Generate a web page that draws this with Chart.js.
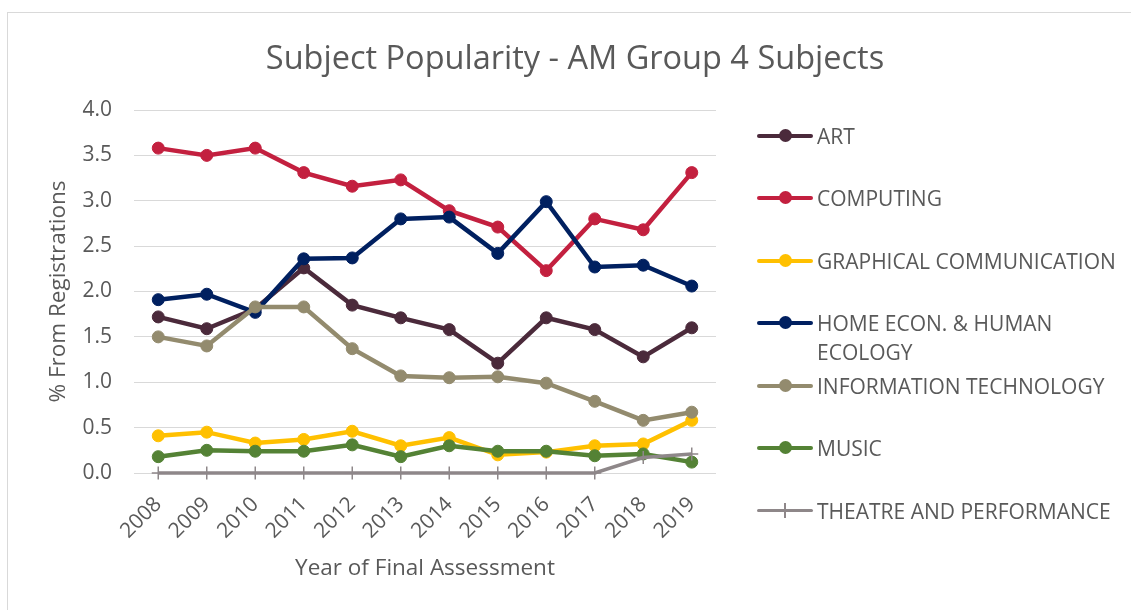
<!DOCTYPE html>
<html>
<head>
<meta charset="utf-8">
<script src="https://cdn.jsdelivr.net/npm/chart.js@4"></script>
<style>
  body { margin:0; background:#fff; font-family:"Open Sans", sans-serif; color:#595959; }
  #wrap { position:relative; width:1131px; height:610px; overflow:hidden; }
  #frame { position:absolute; left:7px; top:12px; width:1200px; height:700px; border:1px solid #d9d9d9; }
  #title { position:absolute; left:0; top:37px; width:1150px; text-align:center; font-size:32.5px; line-height:40px; }
  #chart { position:absolute; left:0; top:0; }
  .lg { position:absolute; left:757px; height:29px; }
  .lg .sym { position:absolute; left:0; top:12px; width:56px; height:4px; border-radius:2px; }
  .lg .dot { position:absolute; left:22px; top:-5px; width:13px; height:13px; border-radius:50%; }
  .lg .txt { position:absolute; left:60px; top:0; width:300px; font-size:21px; line-height:29px; white-space:normal; }
</style>
</head>
<body>
<div id="wrap">
  <div id="frame"></div>
  <canvas id="chart" width="1131" height="610"></canvas>
  <div id="title">Subject Popularity - AM Group 4 Subjects</div>
  <div id="legend"></div>
</div>
<script>
// Chart data
const years = ['2008', '2009', '2010', '2011', '2012', '2013', '2014', '2015', '2016', '2017', '2018', '2019'];

const art       = [1.72, 1.59, 1.81, 2.26, 1.85, 1.71, 1.58, 1.21, 1.71, 1.58, 1.28, 1.60];
const computing = [3.58, 3.50, 3.58, 3.31, 3.16, 3.23, 2.89, 2.71, 2.23, 2.80, 2.68, 3.31];
const graphical = [0.41, 0.45, 0.33, 0.37, 0.46, 0.30, 0.39, 0.20, 0.23, 0.30, 0.32, 0.58];
const homeEcon  = [1.91, 1.97, 1.77, 2.36, 2.37, 2.80, 2.82, 2.42, 2.99, 2.27, 2.29, 2.06];
const infoTech  = [1.50, 1.40, 1.83, 1.83, 1.37, 1.07, 1.05, 1.06, 0.99, 0.79, 0.58, 0.67];
const music     = [0.18, 0.25, 0.24, 0.24, 0.31, 0.18, 0.30, 0.24, 0.24, 0.19, 0.21, 0.12];
const theatre   = [0, 0, 0, 0, 0, 0, 0, 0, 0, 0, 0.17, 0.21];

const yTicks = [0, 0.5, 1.0, 1.5, 2.0, 2.5, 3.0, 3.5, 4.0];

const series = [
    { label: 'ART', data: art, color: '#4B2A3B' },
    { label: 'COMPUTING', data: computing, color: '#C3203F' },
    { label: 'GRAPHICAL COMMUNICATION', data: graphical, color: '#FFC000' },
    { label: 'HOME ECON. & HUMAN ECOLOGY', data: homeEcon, color: '#002060' },
    { label: 'INFORMATION TECHNOLOGY', data: infoTech, color: '#938B6E' },
    { label: 'MUSIC', data: music, color: '#548235' },
    { label: 'THEATRE AND PERFORMANCE', data: theatre, color: '#8E8789', cross: true }
];

const textColor = '#595959';
const font = 'Open Sans';

const chart = new Chart(document.getElementById('chart').getContext('2d'), {
    type: 'line',
    data: {
        labels: years,
        datasets: series.map((s, i) => ({
            label: s.label,
            data: s.data,
            borderColor: s.color,
            backgroundColor: s.color,
            borderWidth: s.cross ? 3.5 : 4.5,
            pointStyle: s.cross ? 'cross' : 'circle',
            pointRadius: s.cross ? 6.5 : 6,
            pointBorderWidth: s.cross ? 1.5 : 1,
            tension: 0,
            clip: false,
            order: -i // later series drawn on top, like Excel
        }))
    },
    options: {
        responsive: false,
        animation: false,
        layout: { padding: { top: 110, right: 415, bottom: 0, left: 0 } },
        plugins: {
            legend: { display: false },
            tooltip: { enabled: false }
        },
        scales: {
            x: {
                offset: true,
                grid: { display: false },
                border: { display: false },
                ticks: { color: textColor, font: { family: font, size: 21 }, minRotation: 45, maxRotation: 45, padding: 11 },
                title: { display: true, text: 'Year of Final Assessment', color: textColor, font: { family: font, size: 22.5 }, padding: { top: 0, bottom: 28 } },
                afterFit: (scale) => { scale.height = 137; }
            },
            y: {
                min: 0,
                max: 4,
                afterBuildTicks: (scale) => { scale.ticks = yTicks.map(v => ({ value: v })); },
                grid: { color: '#d9d9d9', lineWidth: 1, drawTicks: false },
                border: { display: false },
                ticks: { color: textColor, font: { family: font, size: 21 }, padding: 22, callback: (v) => v.toFixed(1) },
                title: { display: true, text: '% From Registrations', color: textColor, font: { family: font, size: 22.5 }, padding: { top: 45, bottom: 0 } },
                afterFit: (scale) => { scale.width = 134; }
            }
        }
    }
});

// HTML legend built from the datasets
const legend = document.getElementById('legend');
series.forEach((s, i) => {
    const item = document.createElement('div');
    item.className = 'lg';
    item.style.top = (136 + 62.5 * i - 14.5) + 'px';
    const sym = s.cross
        ? `<div class="sym" style="background:${s.color};height:3.5px;"><div style="position:absolute;left:27px;top:-6px;width:1.5px;height:15px;background:${s.color};"></div></div>`
        : `<div class="sym" style="background:${s.color};"><div class="dot" style="background:${s.color};"></div></div>`;
    item.innerHTML = sym + `<div class="txt">${s.label}</div>`;
    legend.appendChild(item);
});
</script>
</body>
</html>
